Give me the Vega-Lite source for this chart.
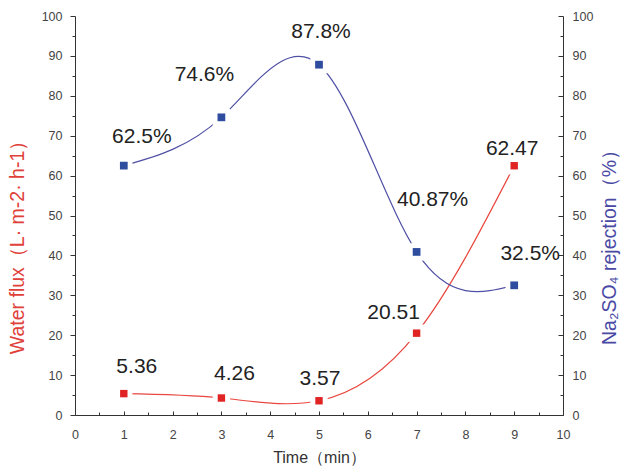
{
  "$schema": "https://vega.github.io/schema/vega-lite/v6.json",
  "width": 488,
  "height": 399,
  "autosize": {"type": "none"},
  "padding": {"left": 75, "top": 16, "right": 61, "bottom": 57},
  "background": "white",
  "config": {
    "view": {"stroke": null},
    "font": "Liberation Sans",
    "axis": {
      "grid": false,
      "domainColor": "#333333",
      "tickColor": "#333333",
      "labelColor": "#444444",
      "labelFont": "Liberation Sans",
      "labelFontSize": 12.5,
      "titleFont": "Liberation Sans",
      "titleFontWeight": "normal",
      "labelFlush": false,
      "labelOverlap": false
    }
  },
  "data": {
    "values": [
      {"time": 1, "flux": 5.36, "rejection": 62.5, "flux_label": "5.36", "rej_label": "62.5%"},
      {"time": 3, "flux": 4.26, "rejection": 74.6, "flux_label": "4.26", "rej_label": "74.6%"},
      {"time": 5, "flux": 3.57, "rejection": 87.8, "flux_label": "3.57", "rej_label": "87.8%"},
      {"time": 7, "flux": 20.51, "rejection": 40.87, "flux_label": "20.51", "rej_label": "40.87%"},
      {"time": 9, "flux": 62.47, "rejection": 32.5, "flux_label": "62.47", "rej_label": "32.5%"}
    ]
  },
  "resolve": {"scale": {"y": "independent"}, "axis": {"x": "independent", "y": "independent"}},
  "layer": [
    {
      "mark": {"type": "line", "interpolate": "natural", "color": "#e8463e", "strokeWidth": 1.2},
      "encoding": {
        "x": {"field": "time", "type": "quantitative", "scale": {"domain": [0, 10], "nice": false},
          "axis": {"orient": "bottom", "values": [0,1,2,3,4,5,6,7,8,9,10], "format": "d", "tickSize": -4, "labelPadding": 17,
            "title": "Time（min）", "titleFontSize": 16, "titleColor": "#333333", "titlePadding": 9}},
        "y": {"field": "flux", "type": "quantitative", "scale": {"domain": [0, 100], "nice": false},
          "axis": {"orient": "left", "values": [0,10,20,30,40,50,60,70,80,90,100], "tickSize": 5, "labelPadding": 8,
            "title": "Water flux（L· m-2· h-1）", "titleFontSize": 19.5, "titleColor": "#e0403a", "titlePadding": 14, "titleY": 226}}
      }
    },
    {
      "mark": {"type": "line", "interpolate": "natural", "color": "#5050a6", "strokeWidth": 1.2},
      "encoding": {
        "x": {"field": "time", "type": "quantitative", "scale": {"domain": [0, 10], "nice": false},
          "axis": {"orient": "bottom", "values": [0.5,1.5,2.5,3.5,4.5,5.5,6.5,7.5,8.5,9.5], "tickSize": -3, "labels": false, "domain": false, "title": null}},
        "y": {"field": "rejection", "type": "quantitative", "scale": {"domain": [0, 100], "nice": false},
          "axis": {"orient": "right", "values": [0,10,20,30,40,50,60,70,80,90,100], "tickSize": -5, "labelPadding": 14,
            "title": "Na₂SO₄ rejection（%）", "titleFontSize": 19.5, "titleColor": "#4a4aa5", "titleAngle": 270, "titleBaseline": "top", "titlePadding": 8, "titleY": 226}}
      }
    },
    {
      "mark": {"type": "point", "shape": "square", "filled": true, "color": "white", "opacity": 1, "size": 300},
      "encoding": {
        "x": {"field": "time", "type": "quantitative", "scale": {"domain": [0, 10], "nice": false}, "axis": null},
        "y": {"field": "flux", "type": "quantitative", "scale": {"domain": [0, 100], "nice": false},
          "axis": {"orient": "left", "values": [5,15,25,35,45,55,65,75,85,95], "tickSize": 3, "labels": false, "domain": false, "title": null}}
      }
    },
    {
      "mark": {"type": "point", "shape": "square", "filled": true, "color": "white", "opacity": 1, "size": 300},
      "encoding": {
        "x": {"field": "time", "type": "quantitative", "scale": {"domain": [0, 10], "nice": false}, "axis": null},
        "y": {"field": "rejection", "type": "quantitative", "scale": {"domain": [0, 100], "nice": false},
          "axis": {"orient": "right", "values": [5,15,25,35,45,55,65,75,85,95], "tickSize": -3, "labels": false, "domain": false, "title": null}}
      }
    },
    {
      "mark": {"type": "point", "shape": "square", "filled": true, "color": "#e02424", "opacity": 1, "size": 55},
      "encoding": {
        "x": {"field": "time", "type": "quantitative", "scale": {"domain": [0, 10], "nice": false}, "axis": null},
        "y": {"field": "flux", "type": "quantitative", "scale": {"domain": [0, 100], "nice": false}, "axis": null}
      }
    },
    {
      "mark": {"type": "point", "shape": "square", "filled": true, "color": "#2e4d9e", "opacity": 1, "size": 60},
      "encoding": {
        "x": {"field": "time", "type": "quantitative", "scale": {"domain": [0, 10], "nice": false}, "axis": null},
        "y": {"field": "rejection", "type": "quantitative", "scale": {"domain": [0, 100], "nice": false}, "axis": null}
      }
    },
    {
      "transform": [{"filter": "datum.time == 1"}],
      "mark": {"type": "text", "fontSize": 21, "color": "#222222", "align": "center", "baseline": "middle", "dx": 13, "dy": -27},
      "encoding": {
        "x": {"field": "time", "type": "quantitative", "scale": {"domain": [0, 10], "nice": false}, "axis": null},
        "y": {"field": "flux", "type": "quantitative", "scale": {"domain": [0, 100], "nice": false}, "axis": null},
        "text": {"field": "flux_label"}
      }
    },
    {
      "transform": [{"filter": "datum.time == 3"}],
      "mark": {"type": "text", "fontSize": 21, "color": "#222222", "align": "center", "baseline": "middle", "dx": 13, "dy": -24},
      "encoding": {
        "x": {"field": "time", "type": "quantitative", "scale": {"domain": [0, 10], "nice": false}, "axis": null},
        "y": {"field": "flux", "type": "quantitative", "scale": {"domain": [0, 100], "nice": false}, "axis": null},
        "text": {"field": "flux_label"}
      }
    },
    {
      "transform": [{"filter": "datum.time == 5"}],
      "mark": {"type": "text", "fontSize": 21, "color": "#222222", "align": "center", "baseline": "middle", "dx": 1, "dy": -22},
      "encoding": {
        "x": {"field": "time", "type": "quantitative", "scale": {"domain": [0, 10], "nice": false}, "axis": null},
        "y": {"field": "flux", "type": "quantitative", "scale": {"domain": [0, 100], "nice": false}, "axis": null},
        "text": {"field": "flux_label"}
      }
    },
    {
      "transform": [{"filter": "datum.time == 7"}],
      "mark": {"type": "text", "fontSize": 21, "color": "#222222", "align": "center", "baseline": "middle", "dx": -23, "dy": -20},
      "encoding": {
        "x": {"field": "time", "type": "quantitative", "scale": {"domain": [0, 10], "nice": false}, "axis": null},
        "y": {"field": "flux", "type": "quantitative", "scale": {"domain": [0, 100], "nice": false}, "axis": null},
        "text": {"field": "flux_label"}
      }
    },
    {
      "transform": [{"filter": "datum.time == 9"}],
      "mark": {"type": "text", "fontSize": 21, "color": "#222222", "align": "center", "baseline": "middle", "dx": -2, "dy": -17},
      "encoding": {
        "x": {"field": "time", "type": "quantitative", "scale": {"domain": [0, 10], "nice": false}, "axis": null},
        "y": {"field": "flux", "type": "quantitative", "scale": {"domain": [0, 100], "nice": false}, "axis": null},
        "text": {"field": "flux_label"}
      }
    },
    {
      "transform": [{"filter": "datum.time == 1"}],
      "mark": {"type": "text", "fontSize": 21, "color": "#222222", "align": "center", "baseline": "middle", "dx": 18, "dy": -29},
      "encoding": {
        "x": {"field": "time", "type": "quantitative", "scale": {"domain": [0, 10], "nice": false}, "axis": null},
        "y": {"field": "rejection", "type": "quantitative", "scale": {"domain": [0, 100], "nice": false}, "axis": null},
        "text": {"field": "rej_label"}
      }
    },
    {
      "transform": [{"filter": "datum.time == 3"}],
      "mark": {"type": "text", "fontSize": 21, "color": "#222222", "align": "center", "baseline": "middle", "dx": -17, "dy": -42},
      "encoding": {
        "x": {"field": "time", "type": "quantitative", "scale": {"domain": [0, 10], "nice": false}, "axis": null},
        "y": {"field": "rejection", "type": "quantitative", "scale": {"domain": [0, 100], "nice": false}, "axis": null},
        "text": {"field": "rej_label"}
      }
    },
    {
      "transform": [{"filter": "datum.time == 5"}],
      "mark": {"type": "text", "fontSize": 21, "color": "#222222", "align": "center", "baseline": "middle", "dx": 2, "dy": -33},
      "encoding": {
        "x": {"field": "time", "type": "quantitative", "scale": {"domain": [0, 10], "nice": false}, "axis": null},
        "y": {"field": "rejection", "type": "quantitative", "scale": {"domain": [0, 100], "nice": false}, "axis": null},
        "text": {"field": "rej_label"}
      }
    },
    {
      "transform": [{"filter": "datum.time == 7"}],
      "mark": {"type": "text", "fontSize": 21, "color": "#222222", "align": "center", "baseline": "middle", "dx": 16, "dy": -52},
      "encoding": {
        "x": {"field": "time", "type": "quantitative", "scale": {"domain": [0, 10], "nice": false}, "axis": null},
        "y": {"field": "rejection", "type": "quantitative", "scale": {"domain": [0, 100], "nice": false}, "axis": null},
        "text": {"field": "rej_label"}
      }
    },
    {
      "transform": [{"filter": "datum.time == 9"}],
      "mark": {"type": "text", "fontSize": 21, "color": "#222222", "align": "center", "baseline": "middle", "dx": 16, "dy": -31},
      "encoding": {
        "x": {"field": "time", "type": "quantitative", "scale": {"domain": [0, 10], "nice": false}, "axis": null},
        "y": {"field": "rejection", "type": "quantitative", "scale": {"domain": [0, 100], "nice": false}, "axis": null},
        "text": {"field": "rej_label"}
      }
    }
  ]
}
